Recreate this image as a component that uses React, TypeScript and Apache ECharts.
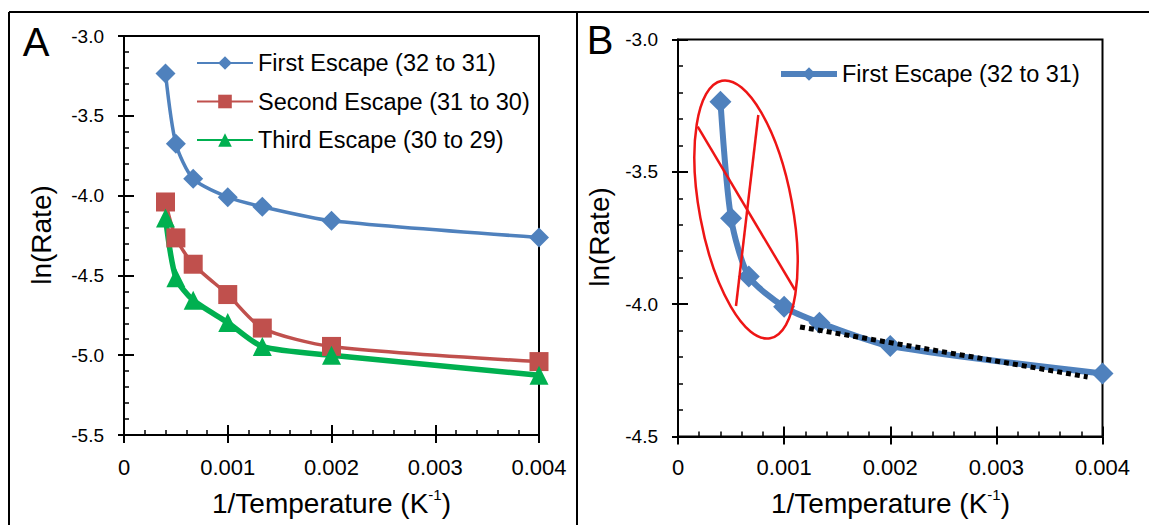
import React, { useEffect, useRef } from 'react';
import * as echarts from 'echarts';

// ---- data ----
const invTemp = [0.0004, 0.0005, 0.000667, 0.001, 0.001333, 0.002, 0.004];
const firstEscape = [-3.235, -3.675, -3.895, -4.01, -4.07, -4.158, -4.262];
const secondEscape = [-4.04, -4.265, -4.43, -4.62, -4.83, -4.945, -5.04];
const thirdEscape = [-4.14, -4.515, -4.655, -4.795, -4.945, -5.0, -5.125];
const trendX = [0.00115, 0.00386];
const trendY = [-4.086, -4.275];
const seriesNames = ['First Escape (32 to 31)', 'Second Escape (31 to 30)', 'Third Escape (30 to 29)'];
const panelLabels = ['A', 'B'];
const xTitle = '1/Temperature (K';
const xTitleSup = '-1';
const yTitle = 'ln(Rate)';

const FONT = 'Liberation Sans';
const BLUE = '#4f81bd';
const RED = '#c0504d';
const GREEN = '#00b050';
const ANNO = '#ee1515';

const GRID_A = { left: 124, top: 36, width: 415, height: 399 };
const GRID_B = { left: 678, top: 39.5, width: 424.5, height: 397 };
const Y_MIN = [-5.5, -4.5];

const pair = (xs: number[], ys: number[]) => xs.map((x, i) => [x, ys[i]]);

const xMain = (g: number, margin: number) => ({
  type: 'value', gridIndex: g, min: 0, max: 0.004, interval: 0.001, position: 'bottom',
  splitLine: { show: false },
  axisLine: { show: true, onZero: false, lineStyle: { color: 'black', width: 2 } },
  axisTick: { show: true, inside: true, length: 10, lineStyle: { color: 'black', width: 2 } },
  minorTick: { show: true, splitNumber: 5, length: 5, lineStyle: { color: 'black', width: 1.5 } },
  axisLabel: { color: '#000', fontSize: 22, fontFamily: FONT, margin },
});
const xOut = (g: number) => ({
  type: 'value', gridIndex: g, min: 0, max: 0.004, interval: 0.001, position: 'bottom',
  splitLine: { show: false },
  axisLine: { show: false, onZero: false },
  axisTick: { show: true, inside: false, length: 8, lineStyle: { color: 'black', width: 2 } },
  axisLabel: { show: false },
});
const yMain = (g: number) => ({
  type: 'value', gridIndex: g, min: Y_MIN[g], max: -3.0, interval: 0.5, position: 'left',
  splitLine: { show: false },
  axisLine: { show: true, onZero: false, lineStyle: { color: 'black', width: 2 } },
  axisTick: { show: true, inside: true, length: 10, lineStyle: { color: 'black', width: 2 } },
  minorTick: { show: true, splitNumber: 5, length: 5, lineStyle: { color: 'black', width: 1.5 } },
  axisLabel: { color: '#000', fontSize: 19, fontFamily: FONT, margin: 20, formatter: (v: number) => v.toFixed(1) },
});
const yOut = (g: number) => ({
  type: 'value', gridIndex: g, min: Y_MIN[g], max: -3.0, interval: 0.5, position: 'left',
  splitLine: { show: false },
  axisLine: { show: false, onZero: false },
  axisTick: { show: true, inside: false, length: 6, lineStyle: { color: 'black', width: 2 } },
  axisLabel: { show: false },
});

function xTitleText(cx: number, cy: number) {
  return {
    type: 'text', x: cx, y: cy, z: 20,
    style: {
      text: `{a|${xTitle}}{b|${xTitleSup}}{a|)}`,
      align: 'center', verticalAlign: 'middle',
      rich: {
        a: { fontSize: 28, fontFamily: FONT, fill: '#000', lineHeight: 32 },
        b: { fontSize: 15, fontFamily: FONT, fill: '#000', verticalAlign: 'top', lineHeight: 32 },
      },
    },
  };
}
function yTitleText(cx: number, cy: number) {
  return {
    type: 'text', x: cx, y: cy, rotation: Math.PI / 2, z: 20,
    style: { text: yTitle, fontSize: 28, fontFamily: FONT, fill: '#000', align: 'center', verticalAlign: 'middle' },
  };
}
const line = (x1: number, y1: number, x2: number, y2: number, stroke: string, w: number) => ({
  type: 'line', z: 30, shape: { x1, y1, x2, y2 }, style: { stroke, lineWidth: w },
});

export default function App() {
  const ref = useRef<HTMLDivElement>(null);
  useEffect(() => {
    if (!ref.current) return;
    const chart = echarts.init(ref.current, undefined, { renderer: 'svg' });
    const option: any = {
      animation: false,
      grid: [
        { ...GRID_A, show: true, borderColor: '#000', borderWidth: 2, backgroundColor: 'transparent' },
        { ...GRID_B, show: true, borderColor: '#000', borderWidth: 2, backgroundColor: 'transparent' },
      ],
      // x: 0 A main, 1 B main, 2 A outer ticks, 3 B outer ticks
      xAxis: [xMain(0, 21), xMain(1, 20), xOut(0), xOut(1)],
      yAxis: [yMain(0), yMain(1), yOut(0), yOut(1)],
      legend: [
        {
          orient: 'vertical', left: 196, top: 51, padding: 0,
          itemWidth: 56, itemHeight: 17, itemGap: 14.5,
          textStyle: { fontSize: 23.5, fontFamily: FONT, color: '#000', lineHeight: 17 },
          data: seriesNames,
        },
        {
          orient: 'vertical', left: 778, top: 62, padding: 0,
          itemWidth: 56, itemHeight: 17,
          textStyle: { fontSize: 23.5, fontFamily: FONT, color: '#000', lineHeight: 17 },
          data: [{ name: seriesNames[0], lineStyle: { width: 6 } }],
        },
      ],
      series: [
        { name: seriesNames[0], type: 'line', xAxisIndex: 0, yAxisIndex: 0, smooth: 0.25, data: pair(invTemp, firstEscape), symbol: 'diamond', symbolSize: 20, lineStyle: { color: BLUE, width: 3.5 }, itemStyle: { color: BLUE } },
        { name: seriesNames[1], type: 'line', xAxisIndex: 0, yAxisIndex: 0, smooth: 0.25, data: pair(invTemp, secondEscape), symbol: 'rect', symbolSize: 19, lineStyle: { color: RED, width: 3.5 }, itemStyle: { color: RED } },
        { name: seriesNames[2], type: 'line', xAxisIndex: 0, yAxisIndex: 0, smooth: 0.25, data: pair(invTemp, thirdEscape), symbol: 'triangle', symbolSize: 19, lineStyle: { color: GREEN, width: 5.5 }, itemStyle: { color: GREEN } },
        { name: seriesNames[0], type: 'line', xAxisIndex: 1, yAxisIndex: 1, smooth: 0.25, data: pair(invTemp, firstEscape), symbol: 'diamond', symbolSize: 22, lineStyle: { color: BLUE, width: 6 }, itemStyle: { color: BLUE } },
        { name: 'Linear trend', type: 'line', xAxisIndex: 1, yAxisIndex: 1, z: 5, data: pair(trendX, trendY), symbol: 'none', lineStyle: { color: '#000', width: 5, type: [5, 4] } },
      ],
      graphic: [
        line(9, 12, 1149, 12, '#000', 2),
        line(9, 12, 9, 525, '#000', 2),
        line(577, 12, 577, 525, '#000', 2),
        { type: 'text', x: 36, y: 42, z: 20, style: { text: panelLabels[0], fontSize: 40, fontFamily: FONT, fill: '#000', align: 'center', verticalAlign: 'middle' } },
        { type: 'text', x: 600, y: 40, z: 20, style: { text: panelLabels[1], fontSize: 40, fontFamily: FONT, fill: '#000', align: 'center', verticalAlign: 'middle' } },
        yTitleText(41, 235),
        yTitleText(599, 237),
        xTitleText(331.5, 503),
        xTitleText(890.5, 503),
        { type: 'ellipse', x: 746, y: 209.5, rotation: 0.185, z: 30, shape: { cx: 0, cy: 0, rx: 46.4, ry: 131 }, style: { fill: 'none', stroke: ANNO, lineWidth: 2.5 } },
        line(697.7, 126.7, 795, 290, ANNO, 2.5),
        line(758.3, 115, 736, 306, ANNO, 2.5),
      ],
    };
    chart.setOption(option);
    return () => chart.dispose();
  }, []);
  return <div ref={ref} style={{ position: 'fixed', left: 0, top: 0, width: 1149, height: 525, background: '#fff' }} />;
}
